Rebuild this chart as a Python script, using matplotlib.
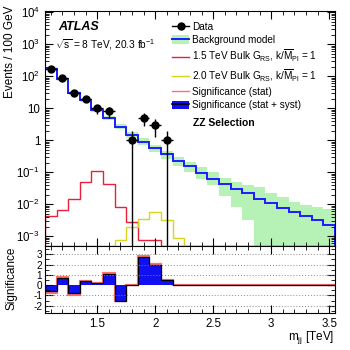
import numpy as np
import matplotlib
matplotlib.use('Agg')
import matplotlib.pyplot as plt
from matplotlib.patches import Patch
from matplotlib.lines import Line2D
from matplotlib.ticker import MultipleLocator, FixedLocator, FixedFormatter, LogLocator, NullFormatter

plt.rcParams['font.family'] = ['Liberation Sans', 'DejaVu Sans']
plt.rcParams['mathtext.fontset'] = 'custom'
plt.rcParams['mathtext.rm'] = 'Liberation Sans'
plt.rcParams['mathtext.it'] = 'Liberation Sans:italic'
plt.rcParams['mathtext.bf'] = 'Liberation Sans:bold'

# 100 GeV bins in m_jj (TeV)
edges = np.round(np.arange(1.05, 3.56, 0.1), 2)
centers = 0.5 * (edges[:-1] + edges[1:])

data = [172, 90, 31, 20, 10, 8, 0, 1, 5, 3, 1, 0, 0,
        0, 0, 0, 0, 0, 0, 0, 0, 0, 0, 0, 0]
bkg = [175, 82, 31, 18, 9.0, 5.0, 2.7, 1.5, 0.92, 0.58, 0.37, 0.22, 0.155,
       0.098, 0.063, 0.044, 0.030, 0.022, 0.015, 0.011, 0.0077, 0.0057, 0.0042, 0.0032, 0.0023]
bkg_hi = [195, 92, 35, 20.5, 10.5, 5.9, 3.3, 1.85, 1.15, 0.74, 0.48, 0.30, 0.21,
          0.147, 0.102, 0.068, 0.050, 0.039, 0.035, 0.023, 0.017, 0.012, 0.0093, 0.0083, 0.0074]
bkg_lo = [158, 74, 27.5, 16, 7.9, 4.2, 2.2, 1.2, 0.72, 0.44, 0.27, 0.16, 0.10,
          0.063, 0.039, 0.018, 0.0083, 0.0032, 0, 0, 0, 0, 0, 0, 0]
sig15 = [0.0042, 0.0065, 0.0144, 0.050, 0.11, 0.044, 0.0083, 0.0029, 0.00075, 0.00075,
         0, 0, 0, 0, 0, 0, 0, 0, 0, 0, 0, 0, 0, 0, 0]
sig20 = [0, 0, 0, 0, 0, 0, 0.00075, 0.0020, 0.0034, 0.0058, 0.0032, 0.0009,
         0, 0, 0, 0, 0, 0, 0, 0, 0, 0, 0, 0, 0]
signif_stat = [-0.8, 0.8, -0.95, 0.45, 0.22, 1.15, -1.55, 0, 2.8, 2.05, 0.55,
               0, 0, 0, 0, 0, 0, 0, 0, 0, 0, 0, 0, 0, 0]
signif_syst = [-0.55, 0.7, -0.8, 0.4, 0.2, 1.1, -1.5, 0, 2.7, 2.0, 0.5,
               0, 0, 0, 0, 0, 0, 0, 0, 0, 0, 0, 0, 0, 0]

ytick_vals = [1e-3, 1e-2, 1e-1, 1, 10, 1e2, 1e3, 1e4]
ytick_labels = ['$10^{-3}$', '$10^{-2}$', '$10^{-1}$', '1', '10', '$10^{2}$', '$10^{3}$', '$10^{4}$']
sig_ticks = [-2, -1, 0, 1, 2, 3]
sig_labels = ['-2', '-1', '0', '1', '2', '3']

ymin, ymax = 5e-4, 1.1e4
c_red = '#e8203a'
c_yel = '#d6d61e'
c_blue = '#1c1cff'
c_green = '#b6f2b6'

fig = plt.figure(figsize=(3.5, 3.5), dpi=100)
ax = fig.add_axes([0.1286, 0.2971, 0.8286, 0.6714])
rx = fig.add_axes([0.1286, 0.1057, 0.8286, 0.1914], sharex=ax)

floor = ymin * 1.02
ax.stairs(np.maximum(bkg_hi, floor), edges, baseline=np.maximum(bkg_lo, 1e-6),
          fill=True, color=c_green, lw=0)
ax.stairs(bkg, edges, color=c_blue, lw=1.4)
ax.stairs(np.maximum(sig15, floor), edges, color=c_red, lw=1.0)
ax.stairs(np.maximum(sig20, floor), edges, color=c_yel, lw=1.0)

d = np.array(data, dtype=float)
m = d > 0
err = np.sqrt(d[m])
lo = np.minimum(err, d[m] - 1e-6)
ax.errorbar(centers[m], d[m], xerr=0.05, yerr=[lo, err], fmt='o', color='black',
            ms=5, lw=1.0, capsize=0)

ax.set_yscale('log')
ax.set_ylim(ymin, ymax)
ax.set_xlim(1.05, 3.55)
ax.yaxis.set_major_locator(FixedLocator(ytick_vals))
ax.yaxis.set_major_formatter(FixedFormatter(ytick_labels))
ax.yaxis.set_minor_locator(LogLocator(base=10, subs=np.arange(2, 10), numticks=20))
ax.yaxis.set_minor_formatter(NullFormatter())
ax.xaxis.set_major_locator(MultipleLocator(0.5))
ax.xaxis.set_minor_locator(MultipleLocator(0.1))
for a in (ax, rx):
    a.tick_params(which='both', direction='in', top=True, right=True, labelsize=8.3)
    a.tick_params(which='major', length=6, width=0.8)
    a.tick_params(which='minor', length=3, width=0.6)
ax.tick_params(labelbottom=False)

ax.text(0.045, 0.932, 'ATLAS', transform=ax.transAxes, fontsize=9, fontweight='bold',
        fontstyle='italic', va='center')
ax.text(0.034, 0.855, r'$\sqrt{\mathrm{s}}$ = 8 TeV, 20.3 fb$^{-1}$', transform=ax.transAxes,
        fontsize=7.3, va='center')
ax.text(0.51, 0.523, 'ZZ Selection', transform=ax.transAxes, fontsize=7.5,
        fontweight='bold', va='center')

h_data = Line2D([], [], color='black', marker='o', ms=5, lw=1.0)
h_bkg = (Patch(facecolor=c_green, edgecolor='none'), Line2D([], [], color=c_blue, lw=1.4))
h_15 = Line2D([], [], color=c_red, lw=1.0)
h_20 = Line2D([], [], color=c_yel, lw=1.0)
h_st = Line2D([], [], color='#ff7070', lw=1.0)
h_sy = (Patch(facecolor='#1010f0', edgecolor='none'), Line2D([], [], color='black', lw=1.2))
labels = ['Data', 'Background model',
          r'1.5 TeV Bulk G$_{\mathrm{RS}}$, k/$\overline{\mathrm{M}}_{\mathrm{Pl}}$ = 1',
          r'2.0 TeV Bulk G$_{\mathrm{RS}}$, k/$\overline{\mathrm{M}}_{\mathrm{Pl}}$ = 1',
          'Significance (stat)', 'Significance (stat + syst)']
ax.legend([h_data, h_bkg, h_15, h_20, h_st, h_sy], labels, loc='upper left',
          bbox_to_anchor=(0.438, 0.955), frameon=False, fontsize=7.2, borderpad=0,
          borderaxespad=0, handlelength=1.7, handletextpad=0.3, labelspacing=0.33,
          handleheight=0.9)

# significance panel
for yv in [-2, -1, 1, 2, 3]:
    rx.axhline(yv, color='#888888', lw=0.7, ls=(0, (1, 2)))
rx.stairs(signif_stat, edges, color='#ff7070', lw=1.6)
rx.stairs(signif_syst, edges, baseline=0, fill=True, color='#1010f0', lw=0)
rx.stairs(signif_syst, edges, baseline=0, color='black', lw=0.9)
rx.set_ylim(-2.7, 3.8)
rx.set_yticks(sig_ticks)
rx.set_yticklabels(sig_labels)
rx.yaxis.set_minor_locator(MultipleLocator(0.5))
rx.tick_params(axis='y', labelsize=7.2, pad=2)
rx.set_xticks([1.5, 2, 2.5, 3, 3.5])
rx.set_xticklabels(['1.5', '2', '2.5', '3', '3.5'])

fig.text(0.03, 0.985, 'Events / 100 GeV', rotation=90, ha='center', va='top', fontsize=8.5)
fig.text(0.034, 0.206, 'Significance', rotation=90, ha='center', va='center', fontsize=8.5)
fig.text(0.955, 0.037, r'm$_{\mathrm{jj}}$ [TeV]', ha='right', va='center', fontsize=8.5)

fig.savefig('out.png', dpi=100)
